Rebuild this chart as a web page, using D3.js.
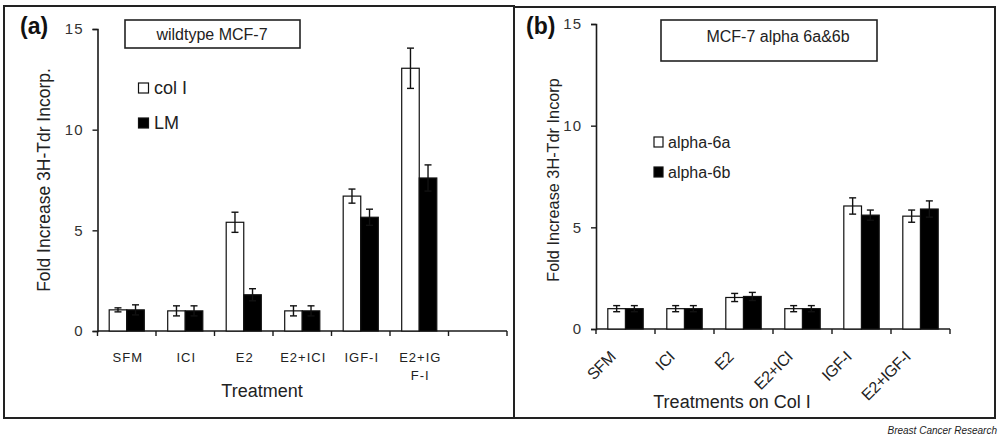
<!DOCTYPE html>
<html><head><meta charset="utf-8">
<script src="https://cdn.jsdelivr.net/npm/d3@7"></script>
<style>
body{margin:0;background:#fff;}
svg{display:block;font-family:"Liberation Sans",Arial,sans-serif;}
</style></head>
<body><svg id="c" width="1000" height="436"></svg>
<script>
// Panel (a)
const catsA = ["SFM","ICI","E2","E2+ICI","IGF-I","E2+IGF-I"];
const tickLabelsA = [["SFM"],["ICI"],["E2"],["E2+ICI"],["IGF-I"],["E2+IG","F-I"]];
const colI = [1.05, 1.0, 5.4, 1.0, 6.7, 13.05];
const colIErr = [0.1, 0.25, 0.5, 0.25, 0.35, 1.0];
const lm = [1.05, 1.0, 1.8, 1.0, 5.65, 7.6];
const lmErr = [0.25, 0.25, 0.3, 0.25, 0.4, 0.65];
// Panel (b)
const catsB = ["SFM","ICI","E2","E2+ICI","IGF-I","E2+IGF-I"];
const a6a = [1.0, 1.0, 1.55, 1.0, 6.05, 5.55];
const a6aErr = [0.15, 0.15, 0.2, 0.15, 0.4, 0.3];
const a6b = [1.0, 1.0, 1.6, 1.0, 5.6, 5.9];
const a6bErr = [0.15, 0.15, 0.2, 0.15, 0.25, 0.4];
const yTicks = [0, 5, 10, 15];

const svg = d3.select("#c");
const ink = "#1a1a1a";

// panel boxes
svg.append("rect").attr("x",4).attr("y",6).attr("width",510).attr("height",412)
  .attr("fill","none").attr("stroke","#222").attr("stroke-width",2);
svg.append("rect").attr("x",514).attr("y",7).attr("width",481).attr("height",411)
  .attr("fill","none").attr("stroke","#222").attr("stroke-width",2);

function panel(o){
  const g = svg.append("g");
  const x = d3.scaleBand().domain(o.domain).range([o.x0, o.x1]).padding(0);
  const y = d3.scaleLinear().domain([0,15]).range([o.y0, o.y1]);
  const bw = x.bandwidth()*0.3;
  // y axis
  const ya = g.append("g").attr("transform",`translate(${o.x0},0)`)
    .call(d3.axisLeft(y).tickValues(yTicks).tickSize(5).tickPadding(9));
  ya.select(".domain").attr("stroke",ink).attr("stroke-width",1.6);
  ya.selectAll(".tick line").attr("stroke",ink).attr("stroke-width",1.4);
  ya.selectAll(".tick text").attr("font-size",15).attr("fill","#333")
    .attr("letter-spacing","1px")
    .attr("font-family","Liberation Sans, Arial, sans-serif");
  // x axis: ticks at band edges
  const edges = o.domain.map(d=>x(d)).concat([o.x1]);
  g.append("line").attr("x1",o.x0).attr("x2",o.x1).attr("y1",o.y0).attr("y2",o.y0)
    .attr("stroke",ink).attr("stroke-width",1.6);
  g.selectAll(".xt").data(edges).join("line")
    .attr("x1",d=>d).attr("x2",d=>d).attr("y1",o.y0).attr("y2",o.y0+5)
    .attr("stroke",ink).attr("stroke-width",1.4);
  // bars
  const series = [
    {v:o.s1, e:o.e1, fill:"#fff", off:-bw},
    {v:o.s2, e:o.e2, fill:"#000", off:0}
  ];
  series.forEach(s=>{
    const cx = (i)=> x(o.cats[i]) + x.bandwidth()/2 + s.off;
    g.selectAll(null).data(s.v).join("rect")
      .attr("x",(d,i)=>cx(i)).attr("y",d=>y(d))
      .attr("width",bw).attr("height",d=>y(0)-y(d))
      .attr("fill",s.fill).attr("stroke","#111").attr("stroke-width",1.2);
    // error bars
    const eg = g.selectAll(null).data(s.v).join("g");
    eg.append("line").attr("x1",(d,i)=>cx(i)+bw/2).attr("x2",(d,i)=>cx(i)+bw/2)
      .attr("y1",(d,i)=>y(d+s.e[i])).attr("y2",(d,i)=>y(d-s.e[i]))
      .attr("stroke","#111").attr("stroke-width",1.4);
    eg.append("line").attr("x1",(d,i)=>cx(i)+bw/2-3.5).attr("x2",(d,i)=>cx(i)+bw/2+3.5)
      .attr("y1",(d,i)=>y(d+s.e[i])).attr("y2",(d,i)=>y(d+s.e[i]))
      .attr("stroke","#111").attr("stroke-width",1.4);
    eg.append("line").attr("x1",(d,i)=>cx(i)+bw/2-3.5).attr("x2",(d,i)=>cx(i)+bw/2+3.5)
      .attr("y1",(d,i)=>y(d-s.e[i])).attr("y2",(d,i)=>y(d-s.e[i]))
      .attr("stroke","#111").attr("stroke-width",1.4);
  });
  return {x,y,g};
}

// Panel (a)
const pa = panel({domain: catsA.concat([" "]), cats: catsA, x0:97.5, x1:507, y0:331, y1:29,
  s1:colI, e1:colIErr, s2:lm, e2:lmErr});
tickLabelsA.forEach((lines,i)=>{
  const t = pa.g.append("text").attr("text-anchor","middle")
    .attr("x", pa.x(catsA[i]) + pa.x.bandwidth()/2).attr("y",362)
    .attr("font-size",13).attr("letter-spacing","1px").attr("fill","#222");
  lines.forEach((l,j)=>t.append("tspan").attr("x", pa.x(catsA[i]) + pa.x.bandwidth()/2 + 1)
    .attr("dy", j===0?0:18).text(l));
});
svg.append("text").attr("x",262).attr("y",397).attr("text-anchor","middle")
  .attr("font-size",18).attr("fill","#222").text("Treatment");
svg.append("text").attr("transform","translate(50,180) rotate(-90)").attr("text-anchor","middle")
  .attr("font-size",17.5).attr("fill","#222").text("Fold Increase 3H-Tdr Incorp.");
svg.append("text").attr("x",20).attr("y",34).attr("font-size",23).attr("font-weight","bold")
  .attr("fill","#111").text("(a)");
svg.append("rect").attr("x",125).attr("y",20).attr("width",175).attr("height",28)
  .attr("fill","#fff").attr("stroke","#222").attr("stroke-width",1.6);
svg.append("text").attr("x",212).attr("y",40).attr("text-anchor","middle")
  .attr("font-size",16).attr("fill","#222").text("wildtype MCF-7");
// legend a
const legA = [{n:"col I",f:"#fff",y:83},{n:"LM",f:"#000",y:118}];
legA.forEach(l=>{
  svg.append("rect").attr("x",138.5).attr("y",l.y).attr("width",10).attr("height",10)
    .attr("fill",l.f).attr("stroke","#111").attr("stroke-width",1.2);
  svg.append("text").attr("x",154).attr("y",l.y+11).attr("font-size",18).attr("fill","#222").text(l.n);
});

// Panel (b)
const pb = panel({domain: catsB, cats: catsB, x0:596, x1:950, y0:329, y1:24,
  s1:a6a, e1:a6aErr, s2:a6b, e2:a6bErr});
catsB.forEach((c,i)=>{
  const cx = pb.x(c) + pb.x.bandwidth()/2;
  pb.g.append("text").attr("text-anchor","end")
    .attr("transform",`translate(${cx-9},${358}) rotate(-45)`)
    .attr("font-size",16).attr("letter-spacing","-0.5px").attr("fill","#222").text(c);
});
svg.append("text").attr("x",732).attr("y",408).attr("text-anchor","middle")
  .attr("font-size",18).attr("fill","#222").text("Treatments on Col I");
svg.append("text").attr("transform","translate(559,180) rotate(-90)").attr("text-anchor","middle")
  .attr("font-size",16.3).attr("fill","#222").text("Fold Increase 3H-Tdr Incorp");
svg.append("text").attr("x",526).attr("y",34).attr("font-size",23).attr("font-weight","bold")
  .attr("fill","#111").text("(b)");
svg.append("rect").attr("x",661).attr("y",20).attr("width",216).attr("height",41)
  .attr("fill","#fff").attr("stroke","#222").attr("stroke-width",1.6);
svg.append("text").attr("x",778).attr("y",42).attr("text-anchor","middle")
  .attr("font-size",16).attr("fill","#222").text("MCF-7 alpha 6a&6b");
const legB = [{n:"alpha-6a",f:"#fff",y:137},{n:"alpha-6b",f:"#000",y:167}];
legB.forEach(l=>{
  svg.append("rect").attr("x",654).attr("y",l.y).attr("width",9).attr("height",10)
    .attr("fill",l.f).attr("stroke","#111").attr("stroke-width",1.2);
  svg.append("text").attr("x",668).attr("y",l.y+11).attr("font-size",16).attr("fill","#222").text(l.n);
});

svg.append("text").attr("x",997).attr("y",434).attr("text-anchor","end")
  .attr("font-size",10).attr("font-style","italic").attr("fill","#222").text("Breast Cancer Research");
</script></body></html>
